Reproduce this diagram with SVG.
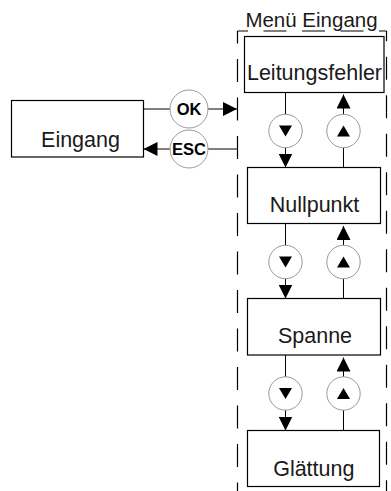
<svg xmlns="http://www.w3.org/2000/svg" xmlns:xlink="http://www.w3.org/1999/xlink" width="391" height="491" viewBox="0 0 391 491">
<style>
.box{fill:#fff;stroke:#000;stroke-width:1.2}
.lbl{font-family:"Liberation Sans",Arial,sans-serif;font-size:21.5px;fill:#1a1a1a;text-anchor:middle}
.title{font-family:"Liberation Sans",Arial,sans-serif;font-size:20.5px;fill:#1a1a1a;text-anchor:middle}
.key{font-family:"Liberation Sans",Arial,sans-serif;font-size:16.5px;font-weight:bold;fill:#000;text-anchor:middle}
.frame{fill:none;stroke:#000;stroke-width:1.2;stroke-dasharray:23 15.5}
.ln{fill:none;stroke:#000;stroke-width:1}
.btn{fill:#fff;stroke:#999;stroke-width:1}
.tri{fill:#000}
</style>
<defs>
<marker id="ah" viewBox="0 0 14 14" refX="14" refY="7" markerWidth="14" markerHeight="14" markerUnits="userSpaceOnUse" orient="auto">
<path d="M0,0 L14,7 L0,14 z" fill="#000"/>
</marker>
<g id="btnDown"><circle class="btn" cx="0" cy="0" r="16.7"/><path class="tri" d="M-6.5,-5.5 L6.5,-5.5 L0,5.5 z"/></g>
<g id="btnUp"><circle class="btn" cx="0" cy="0" r="16.7"/><path class="tri" d="M-6.5,5.5 L6.5,5.5 L0,-5.5 z"/></g>
</defs>

<g id="menu-frame">
<path class="frame" d="M237.5,31 V491" stroke-dashoffset="10.5"/>
<path class="frame" d="M237.5,31 H386.5" stroke-dashoffset="12.5"/>
<path class="frame" d="M386.5,31 V491" stroke-dashoffset="12.8"/>
<text class="title" x="311.5" y="26.5">Menü Eingang</text>
</g>

<g id="connectors">
<path class="ln" d="M143.5,109 H237" marker-end="url(#ah)"/>
<path class="ln" d="M237.5,149 H143.5" marker-end="url(#ah)"/>
<circle class="btn" cx="189" cy="109" r="19"/>
<text class="key" x="189" y="115">OK</text>
<circle class="btn" cx="189" cy="149" r="19"/>
<text class="key" x="189" y="155">ESC</text>

<path class="ln" d="M285.5,92.5 V167.5" marker-end="url(#ah)"/>
<path class="ln" d="M343.5,167.5 V94.5" marker-end="url(#ah)"/>
<use xlink:href="#btnDown" x="285.5" y="131"/>
<use xlink:href="#btnUp" x="343.5" y="131"/>

<path class="ln" d="M285.5,223.5 V298.5" marker-end="url(#ah)"/>
<path class="ln" d="M343.5,298.5 V226" marker-end="url(#ah)"/>
<use xlink:href="#btnDown" x="285.5" y="262"/>
<use xlink:href="#btnUp" x="343.5" y="262"/>

<path class="ln" d="M285.5,355 V430.5" marker-end="url(#ah)"/>
<path class="ln" d="M343.5,430.5 V357.5" marker-end="url(#ah)"/>
<use xlink:href="#btnDown" x="285.5" y="393.5"/>
<use xlink:href="#btnUp" x="343.5" y="393.5"/>
</g>

<g id="eingang">
<rect class="box" x="11.5" y="100.5" width="132" height="56.5"/>
<text class="lbl" x="80.5" y="147">Eingang</text>
</g>
<g id="leitungsfehler">
<rect class="box" x="244.5" y="36.5" width="139.5" height="56"/>
<text class="lbl" x="314.5" y="80">Leitungsfehler</text>
</g>
<g id="nullpunkt">
<rect class="box" x="247.5" y="167.5" width="133" height="56"/>
<text class="lbl" x="314.5" y="211.5">Nullpunkt</text>
</g>
<g id="spanne">
<rect class="box" x="247.5" y="298.5" width="133" height="56.5"/>
<text class="lbl" x="315" y="343">Spanne</text>
</g>
<g id="glaettung">
<rect class="box" x="247.5" y="430.5" width="132" height="56"/>
<text class="lbl" x="313.8" y="475.5">Glättung</text>
</g>
</svg>
